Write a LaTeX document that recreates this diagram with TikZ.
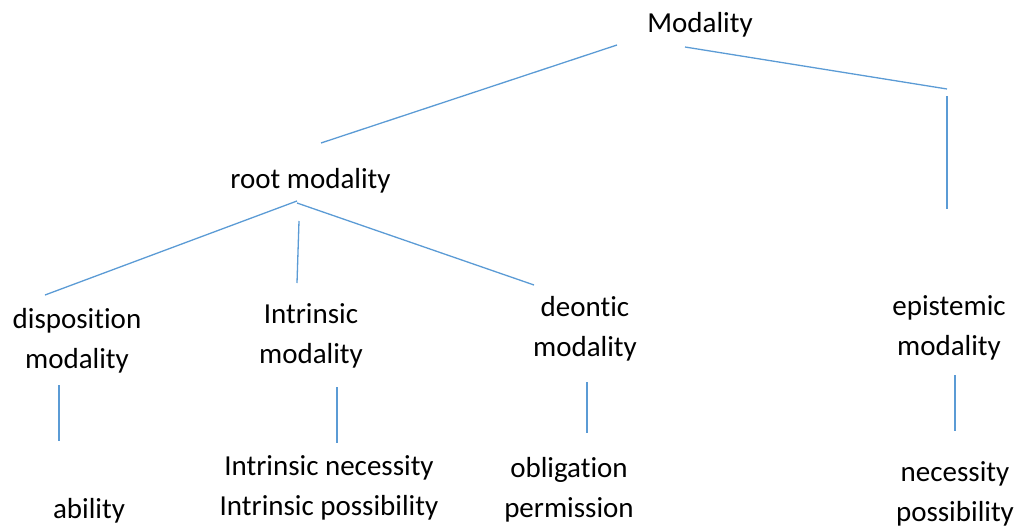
\documentclass[tikz,border=0pt]{standalone}
\usepackage{fontspec}
\setmainfont{Carlito}[Ligatures={NoCommon}]
\definecolor{linkblue}{HTML}{5B9BD5}
\tikzset{
  lbl/.style={anchor=base, align=center, inner sep=0pt, font=\fontsize{29}{40}\selectfont},
  link/.style={draw=linkblue, line width=1.3pt}
}
\begin{document}
\begin{tikzpicture}[x=1pt, y=-1pt]
\useasboundingbox (0,0) rectangle (1022,527);
% labels (anchor = baseline of the last line)
\node[lbl] (modality) at (700,33) {Modality};
\node[lbl] (root) at (310.5,188) {root modality};
\node[lbl] (disp) at (77,368) {disposition\\modality};
\node[lbl] (intr) at (311,363) {Intrinsic\\modality};
\node[lbl] (deon) at (585,356) {deontic\\modality};
\node[lbl] (epis) at (949,355) {epistemic\\modality};
\node[lbl] (abil) at (89,518) {ability};
\node[lbl] (intrleaf) at (329,515) {Intrinsic necessity\\Intrinsic possibility};
\node[lbl] (deonleaf) at (569,517) {obligation\\permission};
\node[lbl] (episleaf) at (955,521) {necessity\\possibility};
% connector end points
\coordinate (m1) at (617,45);  \coordinate (r1) at (321,143);
\coordinate (m2) at (685,47);  \coordinate (e1) at (947,89);
\coordinate (e2) at (947,96);  \coordinate (e3) at (947,209);
\coordinate (r2) at (297,201); \coordinate (d1) at (45,295);
\coordinate (r3) at (299,221); \coordinate (i1) at (297,283);
\coordinate (r4) at (297,203); \coordinate (o1) at (534,285);
\coordinate (d2) at (59,385);  \coordinate (d3) at (59,441);
\coordinate (i2) at (337,387); \coordinate (i3) at (337,443);
\coordinate (o2) at (587,382); \coordinate (o3) at (587,433);
\coordinate (e4) at (955,375); \coordinate (e5) at (955,431);
% connectors
\draw[link] (m1) -- (r1);
\draw[link] (m2) -- (e1);
\draw[link] (e2) -- (e3);
\draw[link] (r2) -- (d1);
\draw[link] (r3) -- (i1);
\draw[link] (r4) -- (o1);
\draw[link] (d2) -- (d3);
\draw[link] (i2) -- (i3);
\draw[link] (o2) -- (o3);
\draw[link] (e4) -- (e5);
\end{tikzpicture}
\end{document}
